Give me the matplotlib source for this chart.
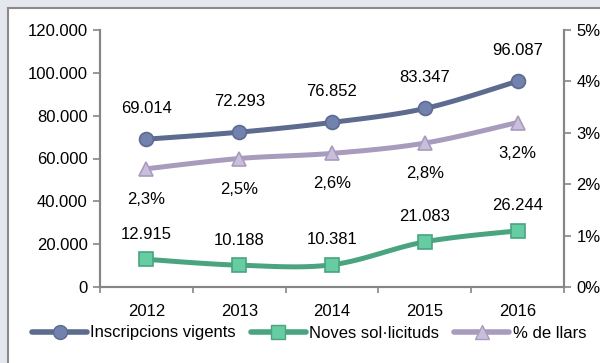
import numpy as np
import matplotlib
matplotlib.use("Agg")
import matplotlib.pyplot as plt
from matplotlib.patches import Rectangle
from matplotlib.lines import Line2D
import matplotlib.ticker as ticker

years = ["2012", "2013", "2014", "2015", "2016"]
inscripcions = [69014, 72293, 76852, 83347, 96087]
noves = [12915, 10188, 10381, 21083, 26244]
pct_llars = [2.3, 2.5, 2.6, 2.8, 3.2]

plt.rcParams['font.family'] = ['Liberation Sans', 'DejaVu Sans']
plt.rcParams['font.size'] = 11

C_INS = '#5d6b8f'
C_INS_M = '#7282ae'
C_NOV = '#4aa47f'
C_NOV_M = '#66cda2'
C_PCT = '#a89bbd'
C_PCT_M = '#c9bfdc'
GRID = '#868686'


def smooth(xs, ys, n=30):
    # bezier smoothing like spreadsheet "smoothed line"
    xs = np.asarray(xs, float)
    ys = np.asarray(ys, float)
    px = np.concatenate([[xs[0]], xs, [xs[-1]]])
    py = np.concatenate([[ys[0]], ys, [ys[-1]]])
    outx, outy = [], []
    t = np.linspace(0, 1, n)
    for i in range(1, len(px) - 2):
        p0 = np.array([px[i], py[i]])
        p3 = np.array([px[i + 1], py[i + 1]])
        c1 = p0 + (p3 - np.array([px[i - 1], py[i - 1]])) / 6
        c2 = p3 - (np.array([px[i + 2], py[i + 2]]) - p0) / 6
        b = ((1 - t) ** 3)[:, None] * p0 + (3 * (1 - t) ** 2 * t)[:, None] * c1 \
            + (3 * (1 - t) * t ** 2)[:, None] * c2 + (t ** 3)[:, None] * p3
        outx.extend(b[:, 0])
        outy.extend(b[:, 1])
    return outx, outy


def fmt_thousands(v):
    return f"{int(round(v)):,}".replace(",", ".")


fig = plt.figure(figsize=(6, 3.63), dpi=100)
fig.patch.set_facecolor('#e5e7ef')
panel = Rectangle((8 / 600, -0.1), 1.2, 1 - 8 / 363 + 0.1, transform=fig.transFigure,
                  facecolor='white', edgecolor='#8a8a8a', linewidth=1.5, zorder=-5)
fig.patches.append(panel)

ax = fig.add_axes([100 / 600, 1 - 287 / 363, 464 / 600, 257 / 363])
ax.set_facecolor('none')
ax2 = ax.twinx()
ax2.set_facecolor('none')

x = np.arange(len(years))

sx, sy = smooth(x, inscripcions)
ax.plot(sx, sy, color=C_INS, lw=3.6, solid_capstyle='round', zorder=3)
ax.plot(x, inscripcions, 'o', ms=10, mfc=C_INS_M, mec=C_INS, mew=1.2, zorder=4)
sx, sy = smooth(x, noves)
ax.plot(sx, sy, color=C_NOV, lw=3.6, solid_capstyle='round', zorder=3)
ax.plot(x, noves, 's', ms=9.5, mfc=C_NOV_M, mec=C_NOV, mew=1.2, zorder=4)
sx, sy = smooth(x, pct_llars)
ax2.plot(sx, sy, color=C_PCT, lw=3.6, solid_capstyle='round', zorder=3)
ax2.plot(x, pct_llars, '^', ms=10.5, mfc=C_PCT_M, mec=C_PCT, mew=1.2, zorder=4)

for xi, v in zip(x, inscripcions):
    ax.annotate(fmt_thousands(v), (xi, v), xytext=(0, 22), textcoords='offset points',
                ha='center', va='center', fontsize=12)
for xi, v in zip(x, noves):
    ax.annotate(fmt_thousands(v), (xi, v), xytext=(0, 18), textcoords='offset points',
                ha='center', va='center', fontsize=12)
for xi, v in zip(x, pct_llars):
    ax2.annotate(f"{v:.1f}%".replace(".", ","), (xi, v), xytext=(0, -22), textcoords='offset points',
                 ha='center', va='center', fontsize=12)

ax.set_xlim(-0.5, len(years) - 0.5)
ax.set_ylim(0, 120000)
ax2.set_ylim(0, 5)
ax.yaxis.set_major_locator(ticker.MultipleLocator(20000))
ax.yaxis.set_major_formatter(ticker.FuncFormatter(lambda v, p: fmt_thousands(v)))
ax2.yaxis.set_major_locator(ticker.MultipleLocator(1))
ax2.yaxis.set_major_formatter(ticker.FuncFormatter(lambda v, p: f"{int(v)}%"))

ax.set_xticks(x)
ax.set_xticklabels(years)
ax.set_xticks(np.arange(-0.5, len(years)), minor=True)
ax.tick_params(axis='x', which='major', length=0, pad=12, labelsize=12)
ax.tick_params(axis='x', which='minor', length=4, width=1.2, color=GRID)
ax.tick_params(axis='y', length=5, width=1.2, color=GRID, pad=4, labelsize=12)
ax2.tick_params(axis='y', length=5, width=1.2, color=GRID, pad=4, labelsize=12)

for a in (ax, ax2):
    a.spines['top'].set_visible(False)
    for s in ('left', 'right', 'bottom'):
        a.spines[s].set_color(GRID)
        a.spines[s].set_linewidth(1.5)

handles = [
    Line2D([], [], color=C_INS, lw=4, marker='o', ms=10, mfc=C_INS_M, mec=C_INS, solid_capstyle='round'),
    Line2D([], [], color=C_NOV, lw=4, marker='s', ms=9.5, mfc=C_NOV_M, mec=C_NOV, solid_capstyle='round'),
    Line2D([], [], color=C_PCT, lw=4, marker='^', ms=10.5, mfc=C_PCT_M, mec=C_PCT, solid_capstyle='round'),
]
labels = ["Inscripcions vigents", "Noves sol·licituds", "% de llars"]
fig.legend(handles, labels, loc='center left', bbox_to_anchor=(32 / 600, 1 - 333 / 363), ncol=3,
           frameon=False, handlelength=3.3, handletextpad=0.2, columnspacing=0.9,
           borderaxespad=0, borderpad=0, fontsize=12)

fig.savefig("out.png", dpi=100, facecolor=fig.get_facecolor())
